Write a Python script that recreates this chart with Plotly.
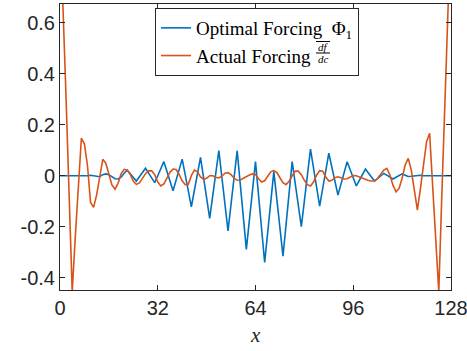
import plotly.graph_objects as go

x_index = list(range(0, 129))

optimal_forcing = [
    0, 0, 0.001, 0, -0.001, 0, 0.001, 0, -0.001, 0,
    0.002, 0, -0.003, -0.004, 0.004, 0.007, 0.004, -0.005, -0.012, -0.013,
    -0.006, 0.01, 0.022, 0.008, -0.007, -0.021, -0.004, 0.012, 0.029, 0.010,
    -0.008, -0.027, 0.0, 0.028, 0.055, 0.017, -0.021, -0.059, -0.018, 0.024,
    0.065, 0.003, -0.060, -0.122, -0.057, 0.007, 0.072, -0.008, -0.087, -0.167,
    -0.079, 0.010, 0.098, -0.007, -0.111, -0.216, -0.111, -0.007, 0.098, -0.031,
    -0.160, -0.289, -0.174, -0.060, 0.055, -0.077, -0.208, -0.340, -0.221, -0.103,
    0.016, -0.094, -0.205, -0.315, -0.192, -0.068, 0.055, -0.030, -0.115, -0.200,
    -0.099, 0.003, 0.104, 0.030, -0.045, -0.119, -0.050, 0.019, 0.088, 0.033,
    -0.021, -0.076, -0.032, 0.011, 0.055, 0.023, -0.008, -0.040, -0.018, 0.004,
    0.026, 0.010, -0.005, -0.021, -0.011, -0.001, 0.009, 0.002, -0.006, -0.013,
    -0.006, 0.0, 0.007, 0.002, -0.003, -0.002, 0.0, 0.001, 0.002, 0.0,
    -0.001, 0, 0, 0, 0, 0, 0, 0, 0,
]

actual_forcing = [
    1.0, 0.675, 0.30, -0.08, -0.455, -0.24, -0.05, 0.147, 0.124, 0.04,
    -0.105, -0.124, -0.075, -0.012, 0.064, 0.049, 0.003, -0.036, -0.053, -0.03,
    0.007, 0.025, 0.022, 0.005, -0.022, -0.034, -0.028, -0.01, 0.008, 0.019,
    0.019, 0.004, -0.025, -0.04, -0.032, -0.01, 0.014, 0.026, 0.024, 0.005,
    -0.02, -0.035, -0.034, 0.0, 0.022, 0.015, -0.005, -0.014, -0.01, 0.0,
    0.0, -0.006, -0.009, -0.002, 0.01, 0.012, 0.004, -0.01, -0.018, -0.017,
    -0.01, -0.003, 0.003, 0.007, 0.005, -0.012, -0.025, -0.02, -0.002, 0.015,
    0.02, 0.012, -0.008, -0.027, -0.035, -0.022, 0.0, 0.018, 0.018, 0.004,
    -0.018, -0.035, -0.04, -0.025, 0.002, 0.02, 0.018, -0.005, -0.021, -0.018,
    -0.008, -0.004, -0.008, -0.013, -0.012, -0.005, 0.001, 0.0, -0.005, -0.01,
    -0.015, -0.019, -0.021, -0.02, -0.01, 0.008, 0.022, 0.029, 0.003, -0.037,
    -0.063, -0.05, -0.01, 0.042, 0.068, 0.022, -0.059, -0.135, -0.05, 0.051,
    0.133, 0.166, -0.04, -0.25, -0.455, -0.075, 0.3, 0.675, 1.0,
]

x_ticks = [0, 32, 64, 96, 128]
y_ticks = [-0.4, -0.2, 0, 0.2, 0.4, 0.6]
y_tick_labels = ["-0.4", "-0.2", "0", "0.2", "0.4", "0.6"]

axis_color = "#262626"
tick_font = dict(family="Liberation Sans, Arial, sans-serif", size=20, color=axis_color)
serif = "Liberation Serif, Times New Roman, serif"

fig = go.Figure()
fig.add_trace(go.Scatter(
    x=x_index, y=optimal_forcing, mode="lines",
    name="Optimal Forcing&nbsp;&nbsp;Φ<sub>1</sub>",
    line=dict(color="#0072BD", width=1.6),
))
fig.add_trace(go.Scatter(
    x=x_index, y=actual_forcing, mode="lines",
    name="Actual Forcing",
    line=dict(color="#D95319", width=1.6),
))

L, R, T, B = 60, 451, 4, 290
def px_x(p):
    return (p - L) / (R - L)
def px_y(p):
    return (B - p) / (B - T)

# legend fraction overline{df/dc} next to "Actual Forcing"
frac_cx = 323
row2 = 54
fig.add_annotation(text="<i>df</i>", x=px_x(frac_cx), y=px_y(row2 - 6.5), xref="paper", yref="paper",
                   showarrow=False, font=dict(family=serif, size=11, color="black"),
                   xanchor="center", yanchor="middle")
fig.add_annotation(text="<i>dc</i>", x=px_x(frac_cx), y=px_y(row2 + 5), xref="paper", yref="paper",
                   showarrow=False, font=dict(family=serif, size=11, color="black"),
                   xanchor="center", yanchor="middle")
for yy in (row2 - 12.5, row2 - 1):
    fig.add_shape(type="line", xref="paper", yref="paper", layer="above",
                  x0=px_x(frac_cx - 7), x1=px_x(frac_cx + 7), y0=px_y(yy), y1=px_y(yy),
                  line=dict(color="black", width=1))

# x-axis label
fig.add_annotation(text="<i>x</i>", x=0.5, y=px_y(335), xref="paper", yref="paper",
                   showarrow=False, font=dict(family=serif, size=21, color=axis_color),
                   xanchor="center", yanchor="middle")

fig.update_layout(
    width=467, height=351,
    margin=dict(l=L, r=467 - R, t=T, b=351 - B),
    paper_bgcolor="white", plot_bgcolor="white",
    showlegend=True,
    legend=dict(
        x=px_x(155), y=px_y(8), xanchor="left", yanchor="top",
        bgcolor="rgba(255,255,255,0)", bordercolor=axis_color, borderwidth=1,
        font=dict(family=serif, size=19, color="black"),
        itemwidth=30, tracegroupgap=0,
    ),
    xaxis=dict(
        range=[0, 128], tickvals=x_ticks, ticks="inside", ticklen=5, tickcolor=axis_color,
        showline=True, linecolor=axis_color, linewidth=1, mirror="ticks",
        showgrid=False, zeroline=False, tickfont=tick_font, automargin=False,
        ticklabeloverflow="allow",
    ),
    yaxis=dict(
        range=[-0.448, 0.673], tickvals=y_ticks, ticktext=y_tick_labels,
        ticks="inside", ticklen=5, tickcolor=axis_color,
        showline=True, linecolor=axis_color, linewidth=1, mirror="ticks",
        showgrid=False, zeroline=False, tickfont=tick_font, automargin=False,
        ticklabeloverflow="allow",
    ),
)

fig.write_html(
    "out.html",
    config={"displayModeBar": False},
    post_script="document.body.style.margin='0';document.body.style.overflow='hidden';",
)
